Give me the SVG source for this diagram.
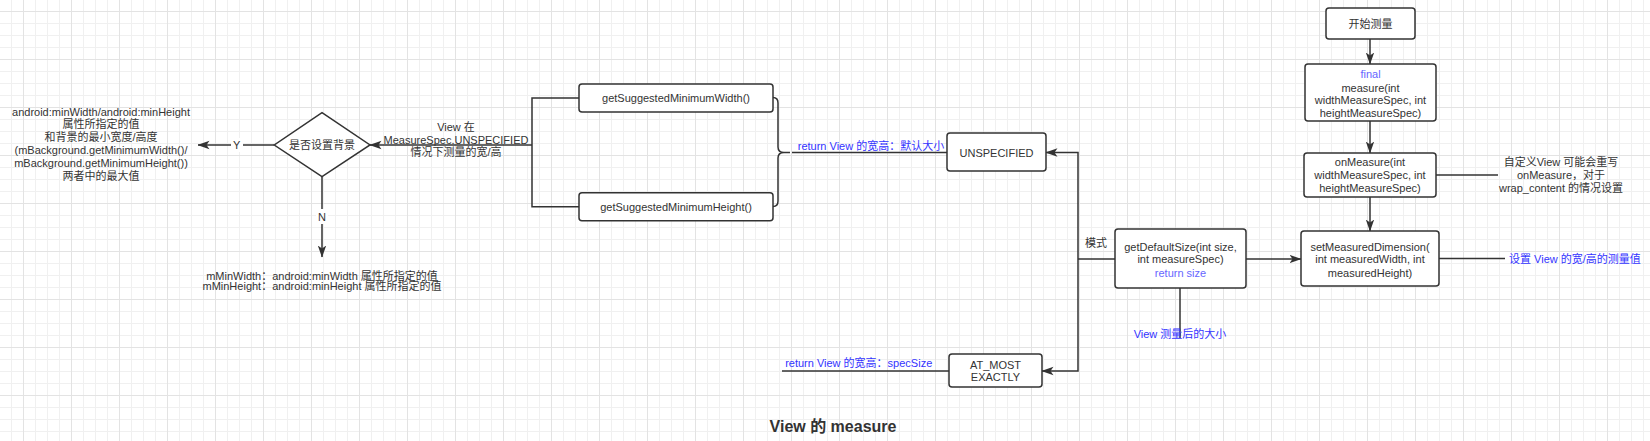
<svg xmlns="http://www.w3.org/2000/svg" width="1650" height="441" viewBox="0 0 1650 441">
<style>
text{font-family:"Liberation Sans","Noto Sans CJK SC",sans-serif;font-size:11px;fill:#333;text-anchor:middle;dominant-baseline:central}
.box{fill:#fff;stroke:#333;stroke-width:1.5}
.edge{fill:none;stroke:#333;stroke-width:1.5}
.arr{marker-end:url(#ah)}
.blue{fill:#3333ff}
.lblue{fill:#6666ff}
.lb{fill:#fff}
.title{font-size:16px;font-weight:bold}
</style>
<defs>
<pattern id="gmin" x="0" y="0" width="12" height="12" patternUnits="userSpaceOnUse">
<path d="M11.5,0V12M0,11.5H12" stroke="#f0f0f0" stroke-width="1" fill="none"/>
</pattern>
<pattern id="gmaj" x="0" y="0" width="48" height="48" patternUnits="userSpaceOnUse">
<path d="M23.5,0V48M0,11.5H48" stroke="#e3e3e3" stroke-width="1" fill="none"/>
</pattern>
<marker id="ah" markerUnits="userSpaceOnUse" markerWidth="12" markerHeight="10" viewBox="0 0 12 10" refX="11.5" refY="5" orient="auto">
<path d="M0,0.8L12,5L0,9.2L3,5Z" fill="#333"/>
</marker>
</defs>
<rect width="1650" height="441" fill="#fff"/>
<rect width="1650" height="441" fill="url(#gmin)"/>
<rect width="1650" height="441" fill="url(#gmaj)"/>

<g id="connectors">
<path class="edge arr" d="M1370,39V64"/>
<path class="edge arr" d="M1370,121V153"/>
<path class="edge arr" d="M1370,197V231"/>
<path class="edge" d="M1436,175H1498"/>
<path class="edge" d="M1439,258.5H1505"/>
<path class="edge arr" d="M1246,259H1301"/>
<path class="edge" d="M1180,288V338"/>
<path class="edge" d="M1115,259H1078"/>
<path class="edge arr" d="M1078,259V152.5H1046"/>
<path class="edge arr" d="M1078,259V371H1042"/>
<path class="edge" d="M947,152.5H792"/>
<path class="edge" d="M773,97.5Q778,97.5 778,103V147Q778,152.5 784,152.5H790M784,152.5Q778,152.5 778,158V201Q778,206.5 773,206.5"/>
<path class="edge" d="M579,98H532V206.7H579"/>
<path class="edge arr" d="M532,145H370"/>
<path class="edge arr" d="M274,145H198"/>
<path class="edge arr" d="M322,177V257"/>
<path class="edge" d="M949,371H782"/>
<rect class="lb" x="231" y="138" width="12" height="14"/>
<text x="236.7" y="145">Y</text>
<rect class="lb" x="316" y="209" width="12" height="15"/>
<text x="322" y="216.7">N</text>
<text x="456" y="126.7">View 在</text>
<text x="456" y="139.5">MeasureSpec.UNSPECIFIED</text>
<text x="456" y="151.7">情况下测量的宽/高</text>
<text class="blue" x="871" y="146">return View 的宽高：默认大小</text>
<text class="blue" x="858.7" y="362.7">return View 的宽高：specSize</text>
<text class="blue" x="1180" y="334">View 测量后的大小</text>
<text x="1096" y="242.7">模式</text>
<text x="1561" y="162.3">自定义View 可能会重写</text>
<text x="1561" y="175.3">onMeasure，对于</text>
<text x="1561" y="188.3">wrap_content 的情况设置</text>
<text class="blue" x="1509" y="258.5" style="text-anchor:start">设置 View 的宽/高的测量值</text>
</g>

<g id="start">
<rect class="box" x="1326" y="8" width="89" height="31" rx="3"/>
<text x="1370.5" y="23.5">开始测量</text>
</g>
<g id="measure">
<rect class="box" x="1305" y="64" width="131" height="57" rx="3"/>
<text class="lblue" x="1370.5" y="74">final</text>
<text x="1370.5" y="87.5">measure(int</text>
<text x="1370.5" y="100">widthMeasureSpec, int</text>
<text x="1370.5" y="112.7">heightMeasureSpec)</text>
</g>
<g id="onMeasure">
<rect class="box" x="1304" y="153" width="132" height="44" rx="3"/>
<text x="1370" y="162.3">onMeasure(int</text>
<text x="1370" y="175.3">widthMeasureSpec, int</text>
<text x="1370" y="188.3">heightMeasureSpec)</text>
</g>
<g id="setMeasuredDimension">
<rect class="box" x="1301" y="231" width="138" height="55" rx="3"/>
<text x="1370" y="247.3">setMeasuredDimension(</text>
<text x="1370" y="259.3">int measuredWidth, int</text>
<text x="1370" y="272.7">measuredHeight)</text>
</g>
<g id="getDefaultSize">
<rect class="box" x="1115" y="229" width="131" height="59" rx="3"/>
<text x="1180.5" y="246.7">getDefaultSize(int size,</text>
<text x="1180.5" y="259.3">int measureSpec)</text>
<text class="lblue" x="1180.5" y="272.7">return size</text>
</g>
<g id="unspecified">
<rect class="box" x="947" y="133" width="99" height="38" rx="3"/>
<text x="996.5" y="152.5">UNSPECIFIED</text>
</g>
<g id="atmost">
<rect class="box" x="949" y="354" width="93" height="33" rx="3"/>
<text x="995.5" y="365">AT_MOST</text>
<text x="995.5" y="376.7">EXACTLY</text>
</g>
<g id="minWidth">
<rect class="box" x="579" y="84" width="194" height="28" rx="3"/>
<text x="676" y="97.7">getSuggestedMinimumWidth()</text>
</g>
<g id="minHeight">
<rect class="box" x="579" y="192.7" width="194" height="28" rx="3"/>
<text x="676" y="206.7">getSuggestedMinimumHeight()</text>
</g>
<g id="decision">
<polygon class="box" points="322,112.7 370,145 322,176.7 274.3,145"/>
<text x="322" y="145">是否设置背景</text>
</g>
<g id="yesText">
<text x="101" y="111.7">android:minWidth/android:minHeight</text>
<text x="101" y="124.3">属性所指定的值</text>
<text x="101" y="137.3">和背景的最小宽度/高度</text>
<text x="101" y="150">(mBackground.getMinimumWidth()/</text>
<text x="101" y="162.5">mBackground.getMinimumHeight())</text>
<text x="101" y="175.5">两者中的最大值</text>
</g>
<g id="noText">
<text x="322" y="275.5">mMinWidth：android:minWidth 属性所指定的值</text>
<text x="322" y="286">mMinHeight：android:minHeight 属性所指定的值</text>
</g>
<g id="title">
<text class="title" x="833" y="426.7">View 的 measure</text>
</g>
</svg>
